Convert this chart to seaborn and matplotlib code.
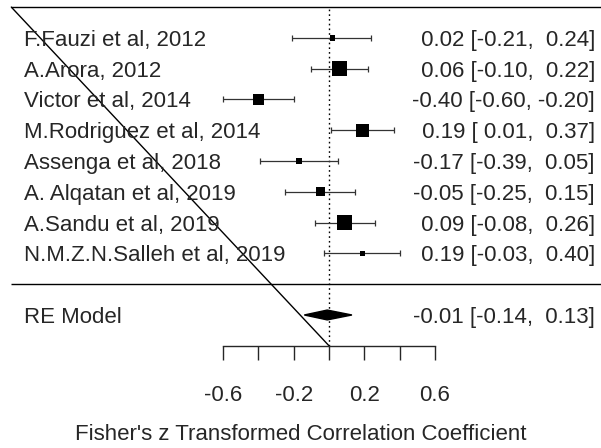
import numpy as np
import pandas as pd
import matplotlib
matplotlib.use("Agg")
import matplotlib.pyplot as plt
import seaborn as sns
from matplotlib.patches import Polygon

# --- data ---
studies = ["F.Fauzi et al, 2012", "A.Arora, 2012", "Victor et al, 2014",
           "M.Rodriguez et al, 2014", "Assenga et al, 2018",
           "A. Alqatan et al, 2019", "A.Sandu et al, 2019",
           "N.M.Z.N.Salleh et al, 2019"]
estimate = [0.02, 0.06, -0.40, 0.19, -0.17, -0.05, 0.09, 0.19]
ci_low = [-0.21, -0.10, -0.60, 0.01, -0.39, -0.25, -0.08, -0.03]
ci_high = [0.24, 0.22, -0.20, 0.37, 0.05, 0.15, 0.26, 0.40]
weights = [10.5, 14.6, 12.6, 13.6, 10.6, 12.1, 14.6, 10.4]

re_label = "RE Model"
re_est = -0.01
re_low = -0.14
re_high = 0.13

tick_major = [-0.6, -0.2, 0.2, 0.6]
tick_minor = [-0.4, 0.0, 0.4]
x_label = "Fisher's z Transformed Correlation Coefficient"

sns.set_style("white")
plt.rcParams["font.family"] = ["Liberation Sans", "DejaVu Sans"]
FS = 16

k = len(studies)
df = pd.DataFrame({"study": studies, "est": estimate, "lo": ci_low, "hi": ci_high, "w": weights})
df["row"] = np.arange(k, 0, -1)

# box side in pixels, linear in weight (like metafor), converted to scatter area (pt^2)
w = df["w"].to_numpy()
side_px = 5.5 + (w - w.min()) / (w.max() - w.min()) * 9.5
df["area"] = (side_px * 72 / 100) ** 2

fig = plt.figure(figsize=(6.01, 4.48), dpi=100)
ax = fig.add_axes([0, 0, 1, 1])
x_left, x_right = -1.864, 1.541
ax.set_xlim(x_left, x_right)
ax.set_ylim(-5.32, k + 1.23)

line_left = -1.80
axis_row = -2

# frame lines
ax.hlines([k + 1, 0], line_left, x_right, color="black", lw=1.0)
ax.plot([line_left, 0], [k + 1, axis_row], color="black", lw=1.0)
ax.vlines(0, axis_row, k + 1, color="black", lw=1.0, linestyles=(0, (1.2, 2.2)))

# confidence intervals
ax.errorbar(df["est"], df["row"], xerr=[df["est"] - df["lo"], df["hi"] - df["est"]],
            fmt="none", ecolor="#333333", elinewidth=0.9, capsize=2.2, capthick=0.9)
# weighted boxes
sns.scatterplot(x=df["est"], y=df["row"], s=df["area"].to_numpy(), marker="s",
                color="black", linewidth=0, legend=False, ax=ax, zorder=3)

# summary diamond
h = 0.16
ax.add_patch(Polygon([(re_low, -1), (re_est, -1 + h), (re_high, -1), (re_est, -1 - h)],
                     closed=True, color="black"))

# labels
label_x = -1.728
text_x = 1.507
for _, r in df.iterrows():
    ax.text(label_x, r["row"], r["study"], ha="left", va="center_baseline", fontsize=FS)
    ax.text(text_x, r["row"], f"{r['est']:5.2f} [{r['lo']:5.2f}, {r['hi']:5.2f}]",
            ha="right", va="center_baseline", fontsize=FS)
ax.text(label_x, -1, re_label, ha="left", va="center_baseline", fontsize=FS)
ax.text(text_x, -1, f"{re_est:5.2f} [{re_low:5.2f}, {re_high:5.2f}]",
        ha="right", va="center_baseline", fontsize=FS)

# x axis drawn as the bottom spine at row -2
for s in ["top", "right", "left"]:
    ax.spines[s].set_visible(False)
ax.spines["bottom"].set_position(("data", axis_row))
ax.spines["bottom"].set_bounds(-0.6, 0.6)
ax.spines["bottom"].set_linewidth(1.0)
ax.set_yticks([])
ax.set_xticks(tick_major, labels=[f"{t:.1f}" for t in tick_major])
ax.set_xticks(tick_minor, minor=True)
ax.tick_params(axis="x", which="both", direction="out", length=10, width=1.0,
               pad=18, labelsize=FS, bottom=True)
ax.set_xlabel(x_label, fontsize=FS, labelpad=13)
ax.set_ylabel("")

fig.savefig("out.png", dpi=100)
